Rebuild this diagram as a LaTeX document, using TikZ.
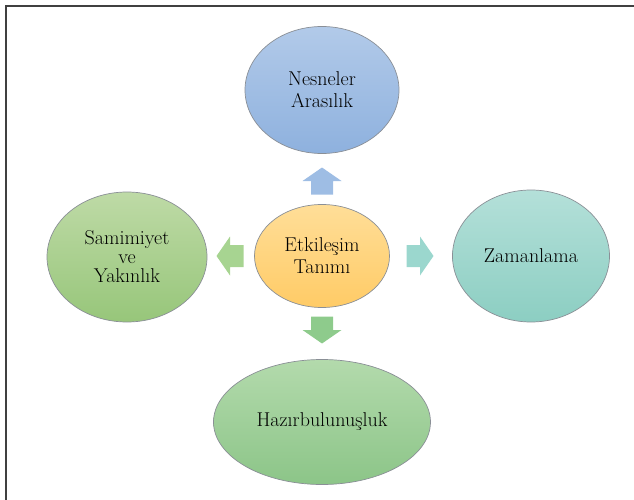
\documentclass[tikz,border=0pt]{standalone}
\usetikzlibrary{shapes.geometric}
\definecolor{frameC}{HTML}{404040}
\definecolor{edgeC}{HTML}{8A8F96}
\definecolor{blueT}{HTML}{B2CAE9}\definecolor{blueB}{HTML}{8EB1DE}
\definecolor{orT}{HTML}{FFDE98}\definecolor{orB}{HTML}{FFCB66}
\definecolor{lgT}{HTML}{BEDAA6}\definecolor{lgB}{HTML}{97C67A}
\definecolor{tlT}{HTML}{B4E0D9}\definecolor{tlB}{HTML}{8CCEC2}
\definecolor{gnT}{HTML}{B3DAAC}\definecolor{gnB}{HTML}{8CC588}
\definecolor{upA}{HTML}{9EBDE4}\definecolor{lfA}{HTML}{A7D491}
\definecolor{rtA}{HTML}{9BD7CE}\definecolor{dnA}{HTML}{8ECB8C}
\tikzset{
  bubble/.style={ellipse, draw=edgeC, line width=0.7pt, align=center,
    font=\fontsize{20}{22}\selectfont, inner sep=0pt},
  frameline/.style={draw=frameC, line width=1.6pt},
}
\newcommand{\blockarr}[4]{% cx cy angle colour ; arrow points along +x before rotation
  \fill[#4, shift={(#1,#2)}, rotate=#3]
    (-13.5,-11) -- (0,-11) -- (0,-19.5) -- (13.5,0) -- (0,19.5) -- (0,11) -- (-13.5,11) -- cycle;}
\begin{document}
\begin{tikzpicture}[x=1pt,y=-1pt]
\useasboundingbox (0,0) rectangle (634,500);
\draw[frameline] (6,500) -- (6,6) -- (634,6);
% ellipses
\node[bubble, minimum width=154, minimum height=127, top color=blueT, bottom color=blueB] (nes) at (322,90) {Nesneler\\Arasılık};
\node[bubble, minimum width=135, minimum height=103, top color=orT, bottom color=orB] (etk) at (322,256) {Etkileşim\\Tanımı};
\node[bubble, minimum width=160, minimum height=130, top color=lgT, bottom color=lgB, font=\fontsize{20}{19}\selectfont] (sam) at (127,257) {Samimiyet\\ve\\Yakınlık};
\node[bubble, minimum width=157, minimum height=132, top color=tlT, bottom color=tlB] (zam) at (531,256) {Zamanlama};
\node[bubble, minimum width=217, minimum height=125, top color=gnT, bottom color=gnB] (haz) at (322,422) {Hazırbulunuşluk};
% block arrows
\blockarr{322}{181}{90}{upA}
\blockarr{230}{256}{180}{lfA}
\blockarr{420}{256}{0}{rtA}
\blockarr{322}{330}{-90}{dnA}
\end{tikzpicture}
\end{document}
